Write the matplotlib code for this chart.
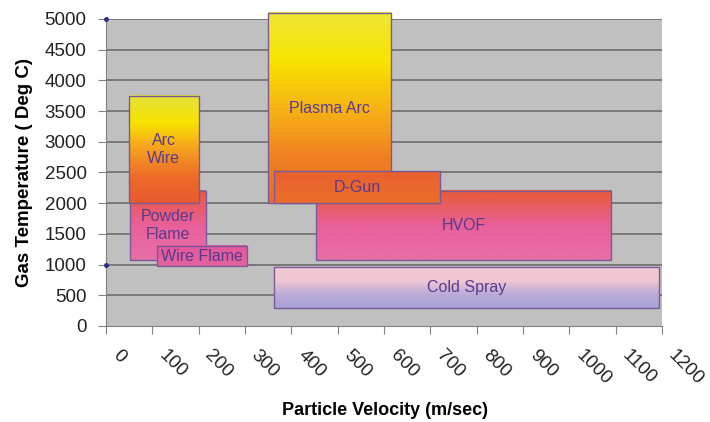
import numpy as np
import matplotlib.pyplot as plt
import matplotlib.transforms as mtransforms
from matplotlib.colors import LinearSegmentedColormap
from matplotlib.patches import Rectangle

plt.rcParams['font.family'] = ['Liberation Sans', 'DejaVu Sans']

# process windows: velocity (m/s) and gas temperature (deg C)
names = ['Plasma Arc', 'HVOF', 'D-Gun', 'Powder\nFlame', 'Arc\nWire', 'Wire Flame', 'Cold Spray']
vel_lo = [350, 453, 363, 52, 50, 111, 363]
vel_hi = [616, 1090, 720, 215, 200, 304, 1194]
temp_lo = [2000, 1075, 2000, 1075, 2000, 970, 300]
temp_hi = [5100, 2200, 2520, 2200, 3750, 1300, 965]

# fill gradients, top -> bottom
grads = [
    ['#eee638', '#f8e400', '#f6b414', '#f08222', '#ec6a28'],
    ['#e85a32', '#e8609a', '#e86ea8'],
    ['#e86030', '#ec6e2a'],
    ['#e85838', '#e8609a', '#e870a8'],
    ['#e4e040', '#f8e400', '#f5a020', '#ee6c28', '#e85a30'],
    ['#e2589c', '#e4649e'],
    ['#f3cbd0', '#f0c6d2', '#bcaad8', '#a8a0d8'],
]

x_ticks = np.arange(0, 1300, 100)
y_ticks = np.arange(0, 5500, 500)
dot_y = [5000, 1000]

fig = plt.figure(figsize=(7.1, 4.22), dpi=100)
ax = fig.add_axes([0.1493, 0.2275, 0.7831, 0.7275])
ax.set_facecolor('#c0c0c0')
ax.set_xlim(0, 1200)
ax.set_ylim(0, 5000)

for y in y_ticks[1:]:
    ax.axhline(y, color='#6c6c6c', lw=1.2, zorder=1)

text_col = '#5a3a8c'
for i, name in enumerate(names):
    x0, x1, y0, y1 = vel_lo[i], vel_hi[i], temp_lo[i], temp_hi[i]
    cmap = LinearSegmentedColormap.from_list('g%d' % i, grads[i])
    grad = np.linspace(0, 1, 256).reshape(-1, 1)
    z = 2 + i
    im = ax.imshow(grad, cmap=cmap, extent=[x0, x1, y0, y1], origin='upper',
                   aspect='auto', interpolation='bilinear', zorder=z)
    im.set_clip_on(False)
    ax.add_patch(Rectangle((x0, y0), x1 - x0, y1 - y0, fill=False,
                           ec='#7a5a98', lw=1.0, zorder=z + 0.1, clip_on=False))
    ax.text((x0 + x1) / 2, (y0 + y1) / 2, name, ha='center', va='center',
            fontsize=11.5, color=text_col, zorder=z + 0.2, linespacing=1.25)

ax.plot([0] * len(dot_y), dot_y, 'o', ms=2.5, color='#2a2a8a', clip_on=False, zorder=20)

ax.set_xticks(x_ticks)
ax.set_yticks(y_ticks)
ax.set_xticklabels([str(v) for v in x_ticks], rotation=-45, ha='left', va='center',
                   rotation_mode='anchor', fontsize=13.5, color='#222222')
ax.tick_params(axis='x', length=6, color='#808080', pad=13)
ax.tick_params(axis='y', length=6, color='#808080', labelsize=13.5,
               labelcolor='#222222', pad=8)
shift = mtransforms.ScaledTranslation(9 / 100, 0, fig.dpi_scale_trans)
for lab in ax.get_xticklabels():
    lab.set_transform(lab.get_transform() + shift)

for s in ['top', 'right']:
    ax.spines[s].set_visible(False)
for s in ['left', 'bottom']:
    ax.spines[s].set_color('#808080')

ax.set_xlabel('Particle Velocity (m/sec)', fontsize=13, fontweight='bold', va='center')
ax.xaxis.set_label_coords(0.502, -0.274)
ax.set_ylabel('Gas Temperature ( Deg C)', fontsize=13.5, fontweight='bold', labelpad=8)

fig.savefig('out.png', dpi=100)
